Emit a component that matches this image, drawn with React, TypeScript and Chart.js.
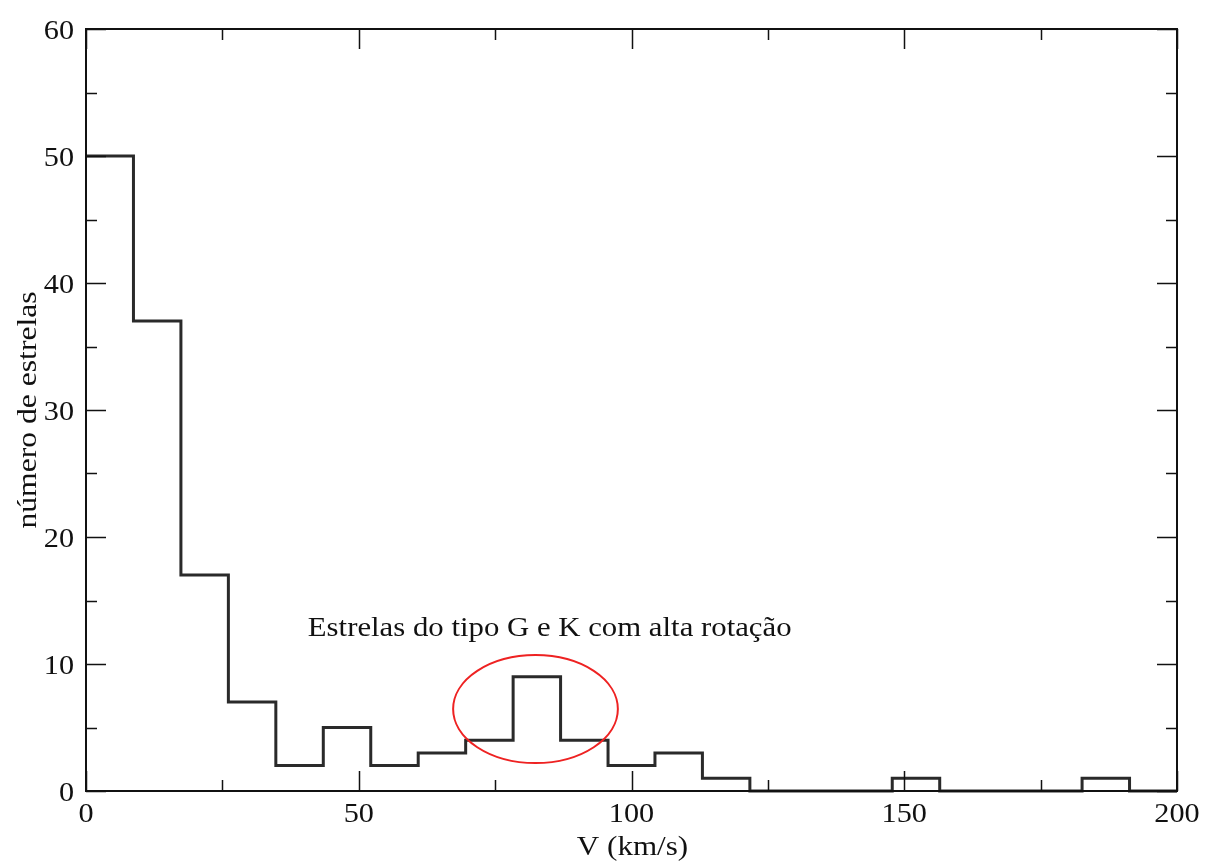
import React, { useEffect, useRef } from "react";
import { Chart, registerables } from "chart.js";

Chart.register(...registerables);

// Histogram bin starts (km/s) and counts per bin
const binStarts = [0, 8.7, 17.4, 26.1, 34.8, 43.5, 52.2, 60.9, 69.6, 78.3, 87.0, 95.7, 104.3, 113.0, 121.7, 130.4, 139.1, 147.8, 156.5, 165.2, 173.9, 182.6, 191.3, 200];
const counts = [50, 37, 17, 7, 2, 5, 2, 3, 4, 9, 4, 2, 3, 1, 0, 0, 0, 1, 0, 0, 0, 1, 0, 0];

const xMajorTicks = [0, 50, 100, 150, 200];
const xMinorTicks = [25, 75, 125, 175];
const yMajorTicks = [0, 10, 20, 30, 40, 50, 60];
const yMinorTicks = [5, 15, 25, 35, 45, 55];

const xTitle = "V (km/s)";
const yTitle = "número de estrelas";
const annotationText = "Estrelas do tipo G e K com alta rotação";
const annotationPos = { x: 85, y: 12.2 };
const ellipse = { cx: 82.4, cy: 6.45, rx: 15.1, ry: 4.25 };

const FONT = "'Liberation Serif', 'DejaVu Serif', serif";
const TEXT_COLOR = "#111";

function drawText(ctx: any, text: string, x: number, y: number, size: number, sx: number, align: string, rotate = 0) {
  ctx.save();
  ctx.translate(x, y);
  if (rotate) ctx.rotate(rotate);
  ctx.scale(sx, 1);
  ctx.font = `${size}px ${FONT}`;
  ctx.fillStyle = TEXT_COLOR;
  ctx.textAlign = align;
  ctx.textBaseline = "alphabetic";
  ctx.fillText(text, 0, 0);
  ctx.restore();
}

const framePlugin = {
  id: "frameTicks",
  afterDatasetsDraw(chart: any) {
    const { ctx, chartArea, scales } = chart;
    const xs = scales.x;
    const ys = scales.y;
    const { left, right, top, bottom } = chartArea;
    ctx.save();
    ctx.strokeStyle = "#111";
    ctx.lineWidth = 2;
    ctx.strokeRect(left, top, right - left, bottom - top);
    ctx.lineWidth = 1.5;
    const MAJ = 20;
    const MIN = 11;
    const drawX = (v: number, len: number) => {
      const px = Math.round(xs.getPixelForValue(v)) + 0.5;
      ctx.beginPath();
      ctx.moveTo(px, bottom);
      ctx.lineTo(px, bottom - len);
      ctx.moveTo(px, top);
      ctx.lineTo(px, top + len);
      ctx.stroke();
    };
    const drawY = (v: number, len: number) => {
      const py = Math.round(ys.getPixelForValue(v)) + 0.5;
      ctx.beginPath();
      ctx.moveTo(left, py);
      ctx.lineTo(left + len, py);
      ctx.moveTo(right, py);
      ctx.lineTo(right - len, py);
      ctx.stroke();
    };
    xMajorTicks.forEach((v) => drawX(v, MAJ));
    xMinorTicks.forEach((v) => drawX(v, MIN));
    yMajorTicks.forEach((v) => drawY(v, MAJ));
    yMinorTicks.forEach((v) => drawY(v, MIN));

    // tick labels
    xMajorTicks.forEach((v) => drawText(ctx, String(v), xs.getPixelForValue(v), bottom + 31, 27, 1.12, "center"));
    yMajorTicks.forEach((v) => drawText(ctx, String(v), left - 12, ys.getPixelForValue(v) + 10, 27, 1.12, "right"));

    // axis titles
    drawText(ctx, xTitle, (left + right) / 2 + 1, bottom + 64, 28, 1.11, "center");
    drawText(ctx, yTitle, 36, (top + bottom) / 2, 28, 1.13, "center", -Math.PI / 2);

    // annotation ellipse
    const cx = xs.getPixelForValue(ellipse.cx);
    const cy = ys.getPixelForValue(ellipse.cy);
    const rx = Math.abs(xs.getPixelForValue(ellipse.cx + ellipse.rx) - cx);
    const ry = Math.abs(ys.getPixelForValue(ellipse.cy + ellipse.ry) - cy);
    ctx.strokeStyle = "#ee2222";
    ctx.lineWidth = 2;
    ctx.beginPath();
    ctx.ellipse(cx, cy, rx, ry, 0, 0, Math.PI * 2);
    ctx.stroke();

    // annotation text
    drawText(ctx, annotationText, xs.getPixelForValue(annotationPos.x), ys.getPixelForValue(annotationPos.y), 27, 1.14, "center");
    ctx.restore();
  },
};

export default function App() {
  const ref = useRef<HTMLCanvasElement | null>(null);
  useEffect(() => {
    document.body.style.margin = "0";
    const points = binStarts.map((x, i) => ({ x, y: counts[i] }));
    const chart = new Chart(ref.current as HTMLCanvasElement, {
      type: "line",
      data: {
        datasets: [
          {
            data: points,
            stepped: "before",
            borderColor: "#2a2a2a",
            borderWidth: 3,
            pointRadius: 0,
            fill: false,
            clip: false,
          } as any,
        ],
      },
      options: {
        animation: false,
        responsive: false,
        maintainAspectRatio: false,
        layout: { padding: { left: 0, right: 28, top: 29, bottom: 0 } },
        plugins: { legend: { display: false }, tooltip: { enabled: false } },
        scales: {
          x: {
            type: "linear",
            min: 0,
            max: 200,
            grid: { display: false, drawTicks: false },
            border: { display: false },
            ticks: { display: false },
            afterFit: (s: any) => {
              s.height = 73;
            },
          },
          y: {
            type: "linear",
            min: 0,
            max: 60,
            grid: { display: false, drawTicks: false },
            border: { display: false },
            ticks: { display: false },
            afterFit: (s: any) => {
              s.width = 86;
            },
          },
        },
      },
      plugins: [framePlugin],
    });
    return () => chart.destroy();
  }, []);
  return (
    <div style={{ width: 1205, height: 864, background: "#fff" }}>
      <canvas ref={ref} width={1205} height={864} style={{ display: "block" }} />
    </div>
  );
}
